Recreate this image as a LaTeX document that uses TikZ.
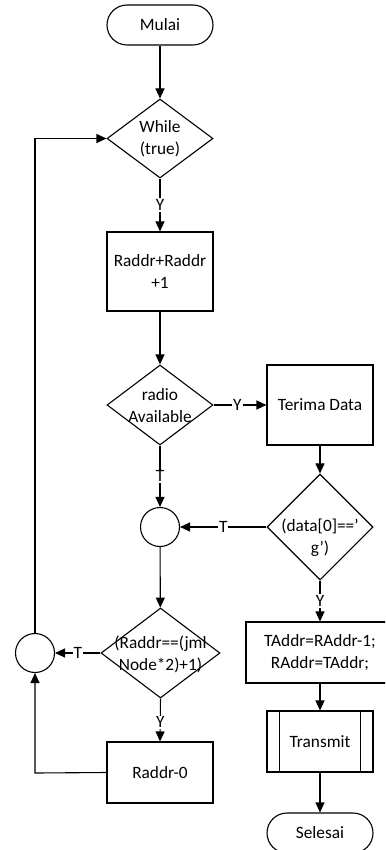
\documentclass[tikz,border=0pt]{standalone}
\usepackage{fontspec}
\setmainfont{Carlito}
\usetikzlibrary{shapes.geometric,arrows.meta}
\begin{document}
\begin{tikzpicture}[x=1pt,y=-1pt,
  every node/.style={font=\fontsize{17.3}{22}\selectfont},
  ln/.style={line width=1.1pt},
  arr/.style={ln,-{Triangle[length=10pt,width=9pt]}},
  box/.style={draw,ln,rectangle,inner sep=0pt,align=center},
  term/.style={draw,ln,rectangle,rounded corners=20pt,minimum width=106pt,minimum height=40pt,inner sep=0pt},
  dia/.style={draw,ln,diamond,inner sep=0pt},
  conn/.style={draw,ln,circle,minimum size=39pt,inner sep=0pt},
  txt/.style={align=center,inner sep=0pt},
  lbl/.style={fill=white,inner sep=1pt}]
\useasboundingbox (0,0) rectangle (385,850);
\clip (0,0) rectangle (385,850);
% nodes
\node[term] (mulai) at (160,25) {Mulai};
\node[dia,minimum width=106pt,minimum height=79pt] (while) at (160,138.5) {};
\node[txt] (whilet) at (160,139) {While\\(true)};
\node[box,minimum width=106pt,minimum height=79pt] (inc) at (160,271.5) {Raddr+Raddr\\+1};
\node[dia,minimum width=106pt,minimum height=80pt] (radio) at (160,405) {};
\node[txt] (radiot) at (160,406) {radio\\Available};
\node[box,minimum width=106pt,minimum height=80pt] (terima) at (320,405) {Terima Data};
\node[conn] (c1) at (160,527) {};
\node[dia,minimum width=106pt,minimum height=106pt] (data) at (320,527) {};
\node[txt] (datat) at (320,538) {(data[0]==’\\g’)};
\node[box,minimum width=148pt,minimum height=61pt] (taddr) at (320,652.5) {TAddr=RAddr-1;\\RAddr=TAddr;};
\node[box,minimum width=106pt,minimum height=61pt] (trans) at (320,741.5) {Transmit};
\draw[ln] ([xshift=13pt]trans.north west) -- ([xshift=13pt]trans.south west);
\draw[ln] ([xshift=-13pt]trans.north east) -- ([xshift=-13pt]trans.south east);
\node[term] (selesai) at (320,833) {Selesai};
\node[dia,minimum width=119pt,minimum height=90pt] (cek) at (160.5,653) {};
\node[txt] (cekt) at (160.5,654) {(Raddr==(jml\\Node*2)+1)};
\node[conn] (c2) at (35,653) {};
\node[box,minimum width=106pt,minimum height=61pt] (zero) at (160,772.5) {Raddr-0};
\coordinate (lt) at (35,138.5);
\coordinate (lb) at (35,773);
% connectors
\draw[arr] (mulai) -- (while);
\draw[arr] (while) -- node[lbl,pos=0.5] {Y} (inc);
\draw[arr] (inc) -- (radio);
\draw[arr] (radio.east) -- node[lbl,pos=0.45] {Y} (terima.west);
\draw[arr] (radio.south) -- node[lbl,pos=0.5] {T} (c1.north);
\draw[arr] (terima) -- (data);
\draw[arr] (data.west) -- node[lbl,pos=0.5] {T} (c1.east);
\draw[arr] (data.south) -- node[lbl,pos=0.5] {Y} (taddr.north);
\draw[arr] (c1) -- (cek);
\draw[arr] (cek.west) -- node[lbl,pos=0.5] {T} (c2.east);
\draw[arr] (cek.south) -- node[lbl,pos=0.55] {Y} (zero.north);
\draw[arr] (zero.west) -- (lb) -- (c2.south);
\draw[arr] (c2.north) -- (lt) -- (while.west);
\draw[arr] (taddr) -- (trans);
\draw[arr] (trans) -- (selesai);
\end{tikzpicture}
\end{document}
